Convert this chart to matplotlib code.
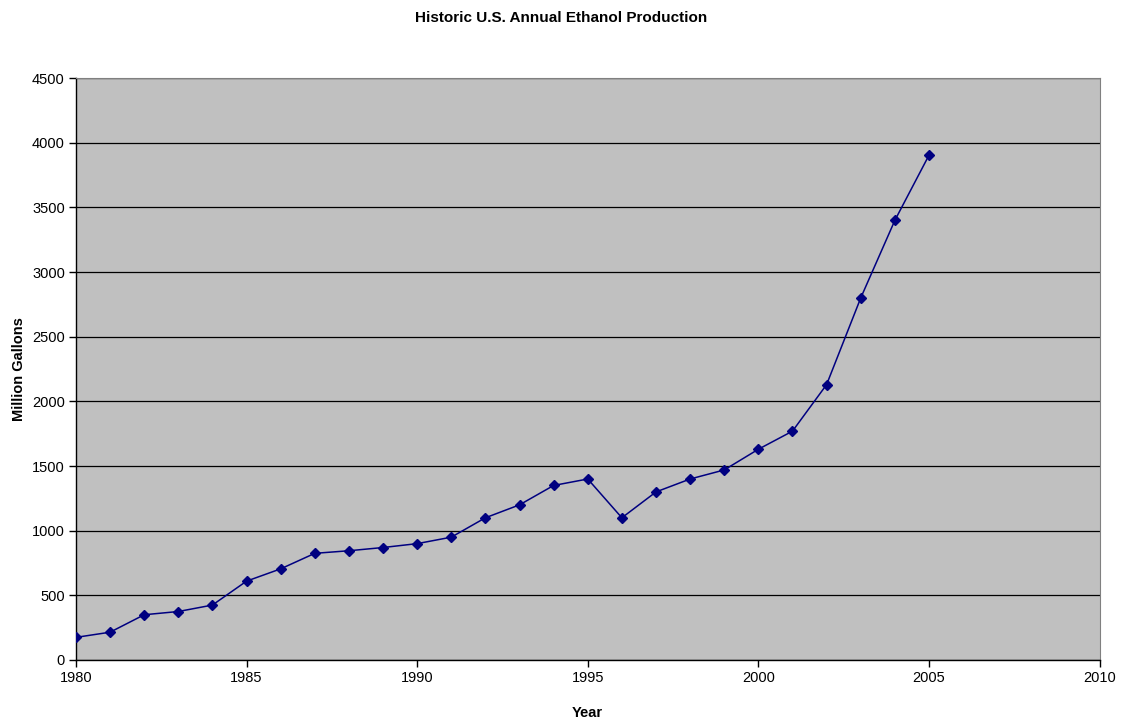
import matplotlib
matplotlib.use("Agg")
import matplotlib.pyplot as plt

years = [1980, 1981, 1982, 1983, 1984, 1985, 1986, 1987, 1988, 1989,
         1990, 1991, 1992, 1993, 1994, 1995, 1996, 1997, 1998, 1999,
         2000, 2001, 2002, 2003, 2004, 2005]
production = [175, 215, 350, 375, 425, 610, 705, 825, 845, 870,
              900, 950, 1100, 1200, 1350, 1400, 1100, 1300, 1400, 1470,
              1630, 1770, 2130, 2800, 3400, 3904]
x_ticks = [1980, 1985, 1990, 1995, 2000, 2005, 2010]
y_ticks = [0, 500, 1000, 1500, 2000, 2500, 3000, 3500, 4000, 4500]

plt.rcParams['font.family'] = ['Liberation Sans', 'DejaVu Sans']

fig = plt.figure(figsize=(11.22, 7.24), dpi=100)
ax = fig.add_axes([0.0677, 0.0884, 0.9123, 0.8036])
ax.set_facecolor('#c0c0c0')

ax.plot(years, production, color='#000080', linewidth=1.1,
        marker='D', markersize=5, markerfacecolor='#000080',
        markeredgecolor='#000080', zorder=3)

ax.set_xlim(1980, 2010)
ax.set_ylim(0, 4500)
ax.set_xticks(x_ticks)
ax.set_yticks(y_ticks)
ax.yaxis.grid(True, color='black', linewidth=0.9)
ax.set_axisbelow(True)

for side in ('top', 'right'):
    ax.spines[side].set_color('#808080')
    ax.spines[side].set_linewidth(0.8)
for side in ('left', 'bottom'):
    ax.spines[side].set_color('black')
    ax.spines[side].set_linewidth(1.0)

ax.tick_params(axis='both', direction='out', length=5, width=1,
               labelsize=10.5, pad=3)

fig.suptitle('Historic U.S. Annual Ethanol Production', fontsize=11,
             fontweight='bold', y=0.985)
ax.set_xlabel('Year', fontsize=10.5, fontweight='bold', labelpad=15)
ax.set_ylabel('Million Gallons', fontsize=10.5, fontweight='bold', labelpad=4)

fig.savefig('out.png', dpi=100)
